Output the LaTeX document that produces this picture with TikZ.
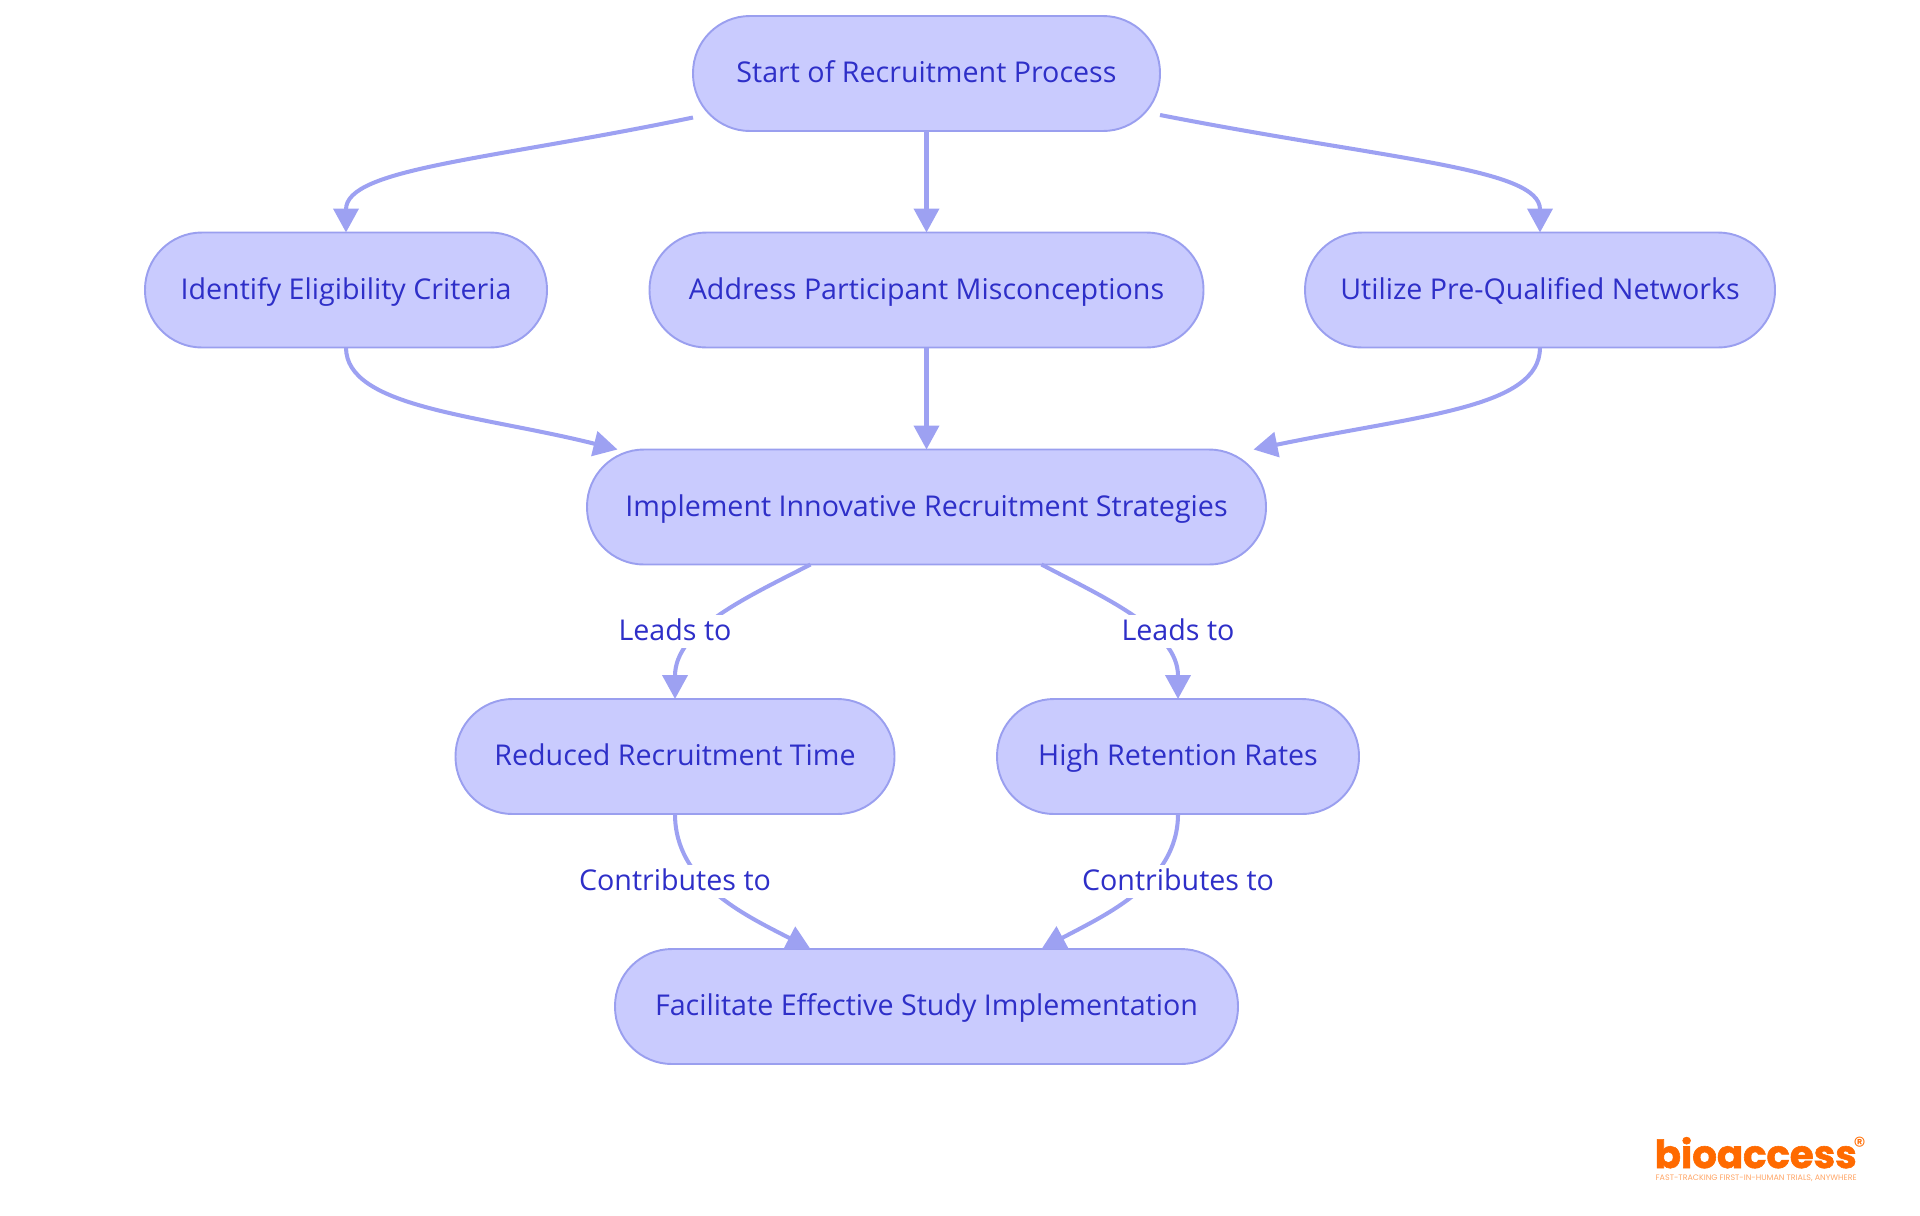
\documentclass[tikz,border=0pt]{standalone}
\usepackage{fontspec}
\setmainfont{Open Sans}
\newfontfamily\logofont[BoldFeatures = {FakeBold = 1.5}]{Poppins}
\usetikzlibrary{arrows.meta}
\definecolor{nodefill}{HTML}{C9CBFE}
\definecolor{nodeline}{HTML}{9A9FEF}
\definecolor{edgeline}{HTML}{9DA1F2}
\definecolor{inktext}{HTML}{2E2FC8}
\definecolor{logoorange}{HTML}{FF6A00}
\tikzset{
  stepnode/.style = {draw = nodeline, fill = nodefill, line width = 0.55pt, rounded corners = 0.57cm,
    minimum height = 1.15cm, inner sep = 0pt, outer sep = 0pt, text = inktext, text height = 0.24cm, text depth = 0.06cm,
    font = \fontsize{8.15}{10}\selectfont},
  edgelabel/.style = {fill = white, inner sep = 0pt, minimum height = 0.33cm, text = inktext,
    text height = 0.24cm, text depth = 0.06cm, font = \fontsize{8.15}{10}\selectfont},
  flow/.style = {draw = edgeline, line width = 1.15pt, -{Triangle[length = 0.24cm, width = 0.25cm]}}
}
\begin{document}
\begin{tikzpicture}
  \useasboundingbox (0, 0) rectangle (19.2, -12.15);
  \node (start) [stepnode, minimum width = 4.67cm] at (9.265, -0.735) {Start of Recruitment Process};
  \node (criteria) [stepnode, minimum width = 4.02cm] at (3.46, -2.9) {Identify Eligibility Criteria};
  \node (myths) [stepnode, minimum width = 5.54cm] at (9.265, -2.9) {Address Participant Misconceptions};
  \node (networks) [stepnode, minimum width = 4.7cm] at (15.4, -2.9) {Utilize Pre-Qualified Networks};
  \node (strategies) [stepnode, minimum width = 6.79cm] at (9.265, -5.07) {Implement Innovative Recruitment Strategies};
  \node (shorter) [stepnode, minimum width = 4.39cm] at (6.75, -7.565) {Reduced Recruitment Time};
  \node (retention) [stepnode, minimum width = 3.62cm] at (11.78, -7.565) {High Retention Rates};
  \node (study) [stepnode, minimum width = 6.23cm] at (9.265, -10.065) {Facilitate Effective Study Implementation};

  \draw [flow] ([yshift = -0.44cm] start.west) .. controls (4.9, -1.6) and (3.46, -1.68) .. (criteria.north);
  \draw [flow] (start.south) -- (myths.north);
  \draw [flow] ([yshift = -0.415cm] start.east) .. controls (13.9, -1.6) and (15.4, -1.68) .. (networks.north);
  \draw [flow] (criteria.south) .. controls (3.46, -4.08) and (4.8, -4.15) .. ([xshift = -3.09cm] strategies.north);
  \draw [flow] (myths.south) -- (strategies.north);
  \draw [flow] (networks.south) .. controls (15.4, -4.08) and (14.2, -4.15) .. ([xshift = 3.27cm] strategies.north);
  \draw [flow] ([xshift = -1.16cm] strategies.south) .. controls (7.45, -5.98) and (6.75, -6.3) .. (shorter.north);
  \draw [flow] ([xshift = 1.15cm] strategies.south) .. controls (11.05, -5.98) and (11.78, -6.3) .. (retention.north);
  \draw [flow] (shorter.south) .. controls (6.75, -8.83) and (7.45, -9.15) .. ([xshift = -1.16cm] study.north);
  \draw [flow] (retention.south) .. controls (11.78, -8.83) and (11.05, -9.15) .. ([xshift = 1.15cm] study.north);

  \node (leadsleft) [edgelabel] at (6.75, -6.31) {Leads to};
  \node (leadsright) [edgelabel] at (11.78, -6.31) {Leads to};
  \node (helpsleft) [edgelabel] at (6.75, -8.81) {Contributes to};
  \node (helpsright) [edgelabel] at (11.78, -8.81) {Contributes to};

  \node (logo) [anchor = base west, inner sep = 0pt, text = logoorange] at (16.54, -11.68)
    {\resizebox{2.02cm}{!}{\logofont\bfseries bioaccess}};
  \node (mark) [anchor = center, inner sep = 0pt, text = logoorange] at (18.595, -11.455)
    {\logofont\fontsize{7}{8}\selectfont ®};
  \node (tagline) [anchor = base west, inner sep = 0pt, text = logoorange!60] at (16.55, -11.8)
    {\resizebox{2.01cm}{!}{\logofont FAST-TRACKING FIRST-IN-HUMAN TRIALS, ANYWHERE}};
\end{tikzpicture}
\end{document}
